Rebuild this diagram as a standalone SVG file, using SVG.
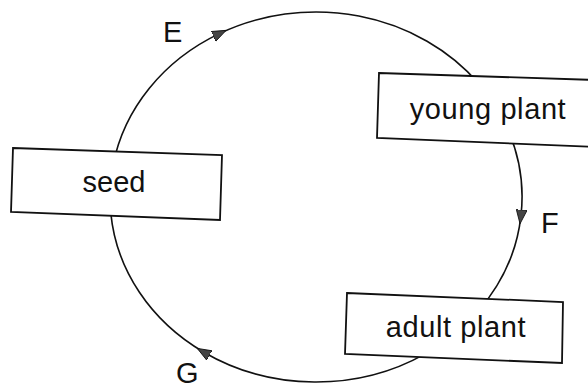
<svg xmlns="http://www.w3.org/2000/svg" width="588" height="389" viewBox="0 0 588 389">
<style>
.conn{fill:none;stroke:#111;stroke-width:1.6;marker-mid:url(#arr)}
.box{fill:#fff;stroke:#111;stroke-width:1.8}
.lbl{font-family:"Liberation Sans",Arial,sans-serif;font-size:29px;fill:#111}
.wide{letter-spacing:0.6px}
</style>
<defs>
<marker id="arr" markerUnits="userSpaceOnUse" markerWidth="14" markerHeight="12" refX="6" refY="5" orient="auto" viewBox="0 0 13 10">
<path d="M0,0 L13,5 L0,10 z" fill="#444" stroke="#111" stroke-width="0.8"/>
</marker>
</defs>
<rect width="588" height="389" fill="#fff"/>
<g id="connectors">
<path id="E-conn" class="conn" d="M113.1 164.8 A206 185 0 0 1 219.3 33.6 A206 185 0 0 1 478.3 83.1"/>
<path id="F-conn" class="conn" d="M502.7 118.8 A206 185 0 0 1 520.9 216.3 A206 185 0 0 1 478.3 311"/>
<path id="G-conn" class="conn" d="M425.2 353.9 A206 185 0 0 1 203.8 352.2 A206 185 0 0 1 110.8 213.1"/>
<text class="lbl" x="163" y="42">E</text>
<text class="lbl" x="541" y="233">F</text>
<text class="lbl" x="176" y="383">G</text>
</g>
<g id="seed">
<polygon class="box" points="13,148 222,155 220,220 11,212"/>
<text class="lbl" x="114" y="192" text-anchor="middle">seed</text>
</g>
<g id="young-plant">
<polygon class="box" points="379,73 596,80 596,147 377,138"/>
<text class="lbl wide" x="488" y="119" text-anchor="middle">young plant</text>
</g>
<g id="adult-plant">
<polygon class="box" points="347,293 563,302 562,363 345,354"/>
<text class="lbl wide" x="456" y="337" text-anchor="middle">adult plant</text>
</g>
</svg>
